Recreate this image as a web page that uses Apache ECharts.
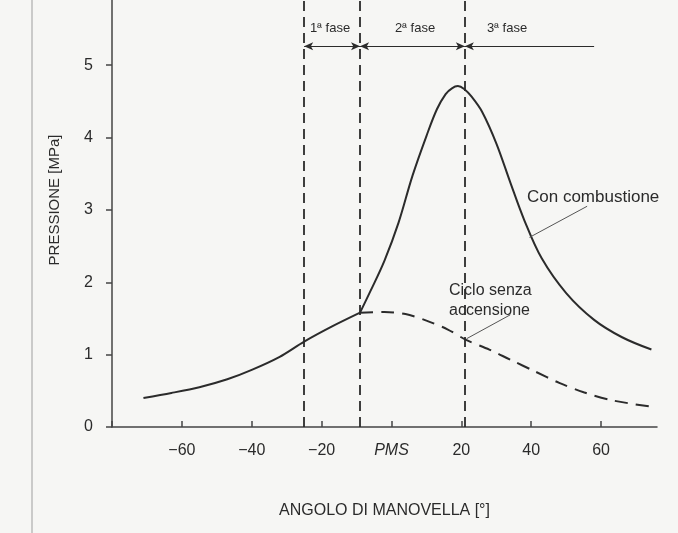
<!DOCTYPE html>
<html>
<head>
<meta charset="utf-8">
<script src="https://cdn.jsdelivr.net/npm/echarts@6/dist/echarts.min.js"></script>
<style>
  html, body { margin: 0; padding: 0; background: #f6f6f4; }
  #chart { width: 678px; height: 533px; }
</style>
</head>
<body>
<div id="chart"></div>
<script>
// Pressure vs crank angle
const compression = [
  [-71, 0.40], [-63, 0.47], [-55, 0.55], [-47, 0.66], [-40, 0.79],
  [-32, 0.97], [-25, 1.18], [-17, 1.39], [-9, 1.58]
];
const combustion = [
  [-9, 1.58], [-6, 1.88], [-2, 2.30], [2, 2.82], [6, 3.47], [10, 4.02],
  [13, 4.39], [15.5, 4.60], [17.3, 4.68], [19, 4.71], [20.8, 4.67], [23, 4.56],
  [26, 4.35], [30, 3.92], [34, 3.38], [38, 2.86], [43, 2.33],
  [50, 1.85], [58, 1.48], [66, 1.24], [74.4, 1.07]
];
const noIgnition = [
  [-9, 1.58], [-2, 1.59], [4, 1.56], [10, 1.47], [16, 1.35], [21.5, 1.20],
  [28, 1.07], [34, 0.93], [41, 0.77], [48, 0.61], [55, 0.48], [63, 0.37], [74.4, 0.28]
];
// phase limits (vertical dashed lines) and the dimension line above
const phaseLimits = [-25, -9, 21];
const phaseLineEnd = 58;
const phaseLineY = 5.26;
const phaseLabels = ['1ª fase', '2ª fase', '3ª fase'];
// leader lines of the annotations
const leaderCombustion = [[56, 3.05], [39.5, 2.62]];
const leaderNoIgnition = [[34, 1.55], [21.5, 1.22]];

const ink = '#2b2b2b';
const font = 'Liberation Sans';

const chart = echarts.init(document.getElementById('chart'));

const dimSegments = [
  [phaseLimits[0], phaseLimits[1]],
  [phaseLimits[1], phaseLimits[2]],
  [phaseLimits[2], phaseLineEnd]
].map(([a, b], i) => [
  { coord: [a, phaseLineY], symbol: 'arrow' },
  { coord: [b, phaseLineY], symbol: i === 2 ? 'none' : 'arrow' }
]);

const option = {
  backgroundColor: '#f6f6f4',
  animation: false,
  grid: { left: 112, right: 21, top: 0, bottom: 106 },
  xAxis: {
    type: 'value',
    min: -80,
    max: 76,
    interval: 20,
    name: 'ANGOLO DI MANOVELLA [°]',
    nameLocation: 'middle',
    nameGap: 76,
    nameTextStyle: { fontFamily: font, fontSize: 16, color: ink },
    axisLine: { onZero: false, lineStyle: { color: '#444', width: 1.5 } },
    axisTick: { inside: true, length: 6, lineStyle: { color: '#444', width: 1.5 } },
    splitLine: { show: false },
    axisLabel: {
      margin: 16,
      fontFamily: font,
      fontSize: 16,
      color: ink,
      showMaxLabel: false,
      formatter: (v) => v === -80 ? '' : v === 0 ? '{i|PMS}' : String(v).replace('-', '\u2212'),
      rich: { i: { fontStyle: 'italic', fontFamily: font, fontSize: 16, color: ink } }
    }
  },
  yAxis: {
    type: 'value',
    min: 0,
    max: 5.9,
    interval: 1,
    axisLine: { show: true, onZero: false, lineStyle: { color: '#444', width: 1.5 } },
    axisTick: { show: true, inside: false, length: 6, lineStyle: { color: '#444', width: 1.5 } },
    splitLine: { show: false },
    axisLabel: {
      margin: 19,
      fontFamily: font,
      fontSize: 16,
      color: ink,
      showMaxLabel: false
    }
  },
  graphic: [
    { type: 'line', shape: { x1: 32, y1: 0, x2: 32, y2: 533 }, style: { stroke: '#bbb', lineWidth: 1.5 } },
    {
      type: 'text', x: 55, y: 200, rotation: Math.PI / 2,
      style: { text: 'PRESSIONE [MPa]', fontFamily: font, fontSize: 15, fill: ink, align: 'center', verticalAlign: 'middle' }
    },
    { type: 'text', x: 527, y: 197, style: { text: 'Con combustione', fontFamily: font, fontSize: 17, fill: ink, verticalAlign: 'middle' } },
    { type: 'text', x: 449, y: 291, style: { text: 'Ciclo senza', fontFamily: font, fontSize: 16, fill: ink, verticalAlign: 'middle' } },
    { type: 'text', x: 449, y: 311, style: { text: 'accensione', fontFamily: font, fontSize: 16, fill: ink, verticalAlign: 'middle' } },
    { type: 'text', x: 330, y: 28, style: { text: phaseLabels[0], fontFamily: font, fontSize: 13, fill: ink, align: 'center', verticalAlign: 'middle' } },
    { type: 'text', x: 415, y: 28, style: { text: phaseLabels[1], fontFamily: font, fontSize: 13, fill: ink, align: 'center', verticalAlign: 'middle' } },
    { type: 'text', x: 507, y: 28, style: { text: phaseLabels[2], fontFamily: font, fontSize: 13, fill: ink, align: 'center', verticalAlign: 'middle' } }
  ],
  series: [
    {
      name: 'compressione',
      type: 'line',
      data: compression,
      smooth: 0.3,
      showSymbol: false,
      lineStyle: { color: ink, width: 2 },
      markLine: {
        silent: true,
        symbol: 'none',
        label: { show: false },
        lineStyle: { color: ink, width: 1.8, type: [10, 6] },
        data: phaseLimits.map((x) => [{ coord: [x, 0] }, { coord: [x, 5.9] }])
      }
    },
    {
      name: 'Con combustione',
      type: 'line',
      data: combustion,
      smooth: 0.35,
      showSymbol: false,
      lineStyle: { color: ink, width: 2 },
      markLine: {
        silent: true,
        symbolSize: [6, 9],
        label: { show: false },
        lineStyle: { color: ink, width: 1, type: 'solid' },
        data: dimSegments
      }
    },
    {
      name: 'Ciclo senza accensione',
      type: 'line',
      data: noIgnition,
      smooth: 0.3,
      showSymbol: false,
      lineStyle: { color: ink, width: 2, type: [13, 8] }
    },
    {
      name: 'leader1',
      type: 'line',
      data: leaderCombustion,
      showSymbol: false,
      lineStyle: { color: '#555', width: 1 }
    },
    {
      name: 'leader2',
      type: 'line',
      data: leaderNoIgnition,
      showSymbol: false,
      lineStyle: { color: '#555', width: 1 }
    }
  ]
};

chart.setOption(option);
</script>
</body>
</html>
